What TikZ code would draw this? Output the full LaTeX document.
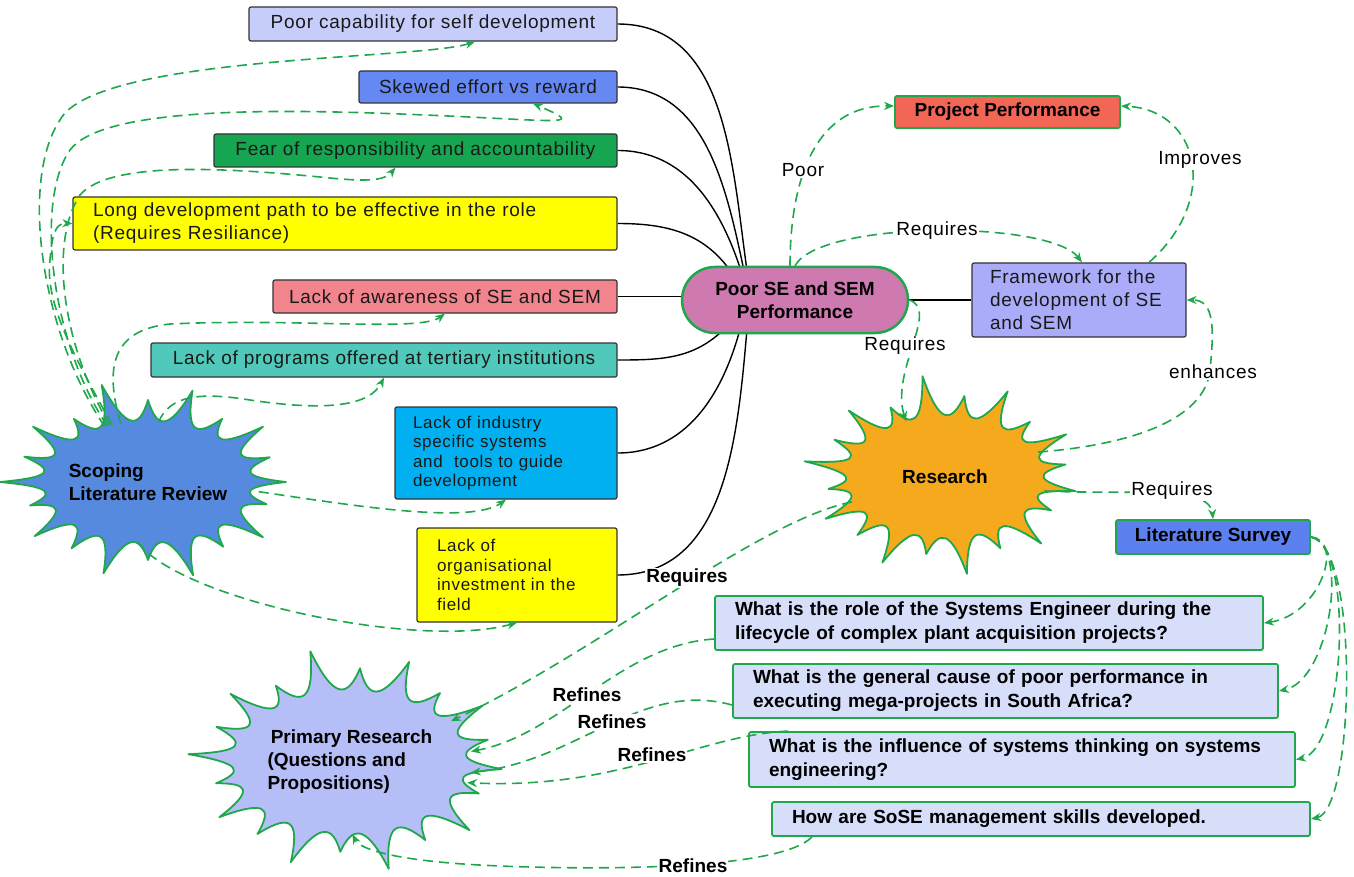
\documentclass[tikz,border=0pt]{standalone}
\usepackage{fontspec}
\setmainfont{Liberation Sans}
\newfontfamily\rf{Liberation Sans}[LetterSpace=4]
\usetikzlibrary{shapes.geometric,shapes.misc,arrows.meta,backgrounds}
\definecolor{gr}{RGB}{30,168,75}
\definecolor{cA}{RGB}{198,205,250}
\definecolor{cB}{RGB}{102,136,242}
\definecolor{cC}{RGB}{22,165,80}
\definecolor{yel}{RGB}{255,255,0}
\definecolor{pinkc}{RGB}{242,132,142}
\definecolor{tealc}{RGB}{80,201,186}
\definecolor{cyanc}{RGB}{0,176,240}
\definecolor{pillc}{RGB}{206,122,176}
\definecolor{ppc}{RGB}{242,102,86}
\definecolor{fwc}{RGB}{170,172,250}
\definecolor{resc}{RGB}{245,170,30}
\definecolor{lsc}{RGB}{92,128,238}
\definecolor{qc}{RGB}{214,222,250}
\definecolor{slrc}{RGB}{86,138,222}
\definecolor{prc}{RGB}{182,190,248}
% #1 cx, #2 cy, #3 rx, #4 ry, #5 fill, #6 rotation
\newcommand\starburst[6]{%
  \filldraw[draw=gr, line width=1.8pt, fill=#5, line join=round]
  ({#1+(#3+30)*cos(#6)},{#2+(#4+30)*sin(#6)})
  \foreach \pa/\ta/\ea in {0/17/16, 17/36/34, 36/54/20, 54/72/38, 72/90/18, 90/108/36, 108/126/22, 126/144/32, 144/162/16, 162/180/40, 180/198/22, 198/216/34, 216/234/18, 234/252/42, 252/270/22, 270/288/36, 288/306/18, 306/324/34, 324/342/20, 342/360/30}{
    .. controls ({#1+0.88*#3*cos(\pa+0.3*(\ta-\pa)+#6)},{#2+0.88*#4*sin(\pa+0.3*(\ta-\pa)+#6)})
    and ({#1+0.88*#3*cos(\ta-0.3*(\ta-\pa)+#6)},{#2+0.88*#4*sin(\ta-0.3*(\ta-\pa)+#6)}) ..
    ({#1+(#3+\ea)*cos(\ta+#6)},{#2+(#4+\ea)*sin(\ta+#6)})
  } -- cycle;
}
\tikzset{
  box/.style={draw=black!80, line width=1.2pt, rounded corners=2pt, inner sep=0pt,
    font=\rf\fontsize{19}{23}\selectfont, text=black!90},
  gbox/.style={draw=gr, line width=1.8pt, rounded corners=2pt, inner sep=0pt,
    font=\bfseries\fontsize{19}{23}\selectfont},
  qbox/.style={gbox, fill=qc, inner xsep=20pt, align=left, font=\bfseries\fontsize{19}{24}\selectfont},
  btext/.style={ellipse, inner sep=0pt, font=\bfseries\fontsize{19}{23}\selectfont, align=left},
  dar/.style={draw=gr, line width=1.6pt, dash pattern=on 10pt off 6pt, -{Stealth[length=10pt,width=8pt]}},
  bl/.style={draw=black, line width=1.4pt},
  lbl/.style={fill=white, inner sep=1pt, font=\rf\fontsize{19}{23}\selectfont},
  lblb/.style={fill=white, inner sep=1pt, font=\bfseries\fontsize{19}{23}\selectfont},
}
\begin{document}
\begin{tikzpicture}[x=1pt,y=-1pt]
\useasboundingbox (0,0) rectangle (1354,877);
% left boxes
\node[box, fill=cA, minimum width=368pt, minimum height=34pt] (b1) at (433,24) {Poor capability for self development};
\node[box, fill=cB, minimum width=258pt, minimum height=32pt] (b2) at (488,87) {Skewed effort vs reward};
\node[box, fill=cC, minimum width=403pt, minimum height=33pt] (b3) at (415.5,150.5) {Fear of responsibility and accountability};
\node[box, fill=yel, minimum height=53pt, text width=504pt, inner xsep=20pt, align=left] (b4) at (345,223.5) {Long development path to be effective in the role\\(Requires Resiliance)};
\node[box, fill=pinkc, minimum width=344pt, minimum height=33pt] (b5) at (445,296.5) {Lack of awareness of SE and SEM};
\node[box, fill=tealc, minimum width=466pt, minimum height=34pt] (b6) at (384,360) {Lack of programs offered at tertiary institutions};
\node[box, fill=cyanc, minimum height=92pt, text width=186pt, inner xsep=18pt, align=left, font=\rf\fontsize{17}{19.5}\selectfont] (b7) at (506,453) {Lack of industry\\specific systems\\and\ \ tools to guide\\development};
\node[box, fill=yel, minimum height=94pt, text width=160pt, inner xsep=20pt, align=left, font=\rf\fontsize{17}{19.5}\selectfont] (b8) at (517,575) {Lack of\\organisational\\investment in the\\field};
% centre
\node[rounded rectangle, draw=gr, line width=2.5pt, fill=pillc, minimum width=226pt, minimum height=66pt, inner sep=0pt, align=center, font=\bfseries\fontsize{19}{23}\selectfont] (pill) at (795,300) {Poor SE and SEM\\Performance};
\node[gbox, fill=ppc, minimum width=225pt, minimum height=32pt] (pp) at (1007.5,112) {Project Performance};
\node[box, fill=fwc, minimum height=74pt, text width=178pt, inner xsep=18pt, align=left] (fw) at (1079,300) {Framework for the\\development of SE\\and SEM};
\node[gbox, fill=lsc, minimum width=194pt, minimum height=34pt] (ls) at (1213,537) {Literature Survey};
\node[qbox, minimum height=54pt, text width=508pt] (q1) at (989,623) {What is the role of the Systems Engineer during the\\lifecycle of complex plant acquisition projects?};
\node[qbox, minimum height=54pt, text width=505pt] (q2) at (1005.5,691) {What is the general cause of poor performance in\\executing mega-projects in South Africa?};
\node[qbox, minimum height=55pt, text width=506pt] (q3) at (1022,759.5) {What is the influence of systems thinking on systems\\engineering?};
\node[qbox, minimum height=34pt, text width=498pt] (q4) at (1041,819) {How are SoSE management skills developed.};
% bursts
\starburst{148}{482}{108}{60}{slrc}{0}
\node[btext, minimum width=216pt, minimum height=120pt] (slr) at (148,482) {Scoping\\Literature Review};
\starburst{945}{477}{102}{60}{resc}{9}
\node[btext, minimum width=204pt, minimum height=120pt] (res) at (945,477) {Research};
\starburst{350}{762}{122}{72}{prc}{4}
\node[btext, minimum width=244pt, minimum height=144pt] (pr) at (350,762) {\,Primary Research\\(Questions and\\Propositions)};
% black connectors
\begin{scope}[on background layer]
\fill[white] (0,0) rectangle (1354,877);
\draw[bl] (b1.east) to[out=0,in=98] ([xshift=-48pt,yshift=-5pt]pill.north);
\draw[bl] (b2.east) to[out=0,in=102] ([xshift=-51pt,yshift=-5pt]pill.north);
\draw[bl] (b3.east) to[out=0,in=108] ([xshift=-54pt,yshift=-5pt]pill.north);
\draw[bl] (b4.east) to[out=0,in=125] ([xshift=-64pt,yshift=-6pt]pill.north);
\draw[bl] (b5.east) -- (b5.east -| pill.center);
\draw[bl] (b6.east) to[out=0,in=225] ([xshift=-70pt,yshift=6pt]pill.south);
\draw[bl] (b7.east) to[out=0,in=255] ([xshift=-55pt,yshift=5pt]pill.south);
\draw[bl] (b8.east) to[out=0,in=265] ([xshift=-48pt,yshift=5pt]pill.south);
\draw[bl] (pill.center) -- (fw.west);
\end{scope}
% scoping connectors
\draw[dar] (slr.128) .. controls (40,330) and (20,180) .. (60,120) .. controls (95,55) and (420,60) .. ([xshift=42pt]b1.south);
\draw[dar] (slr.126) .. controls (50,340) and (35,200) .. (70,150) .. controls (100,110) and (250,108) .. (400,114) .. controls (560,120) and (590,128) .. ([xshift=45pt]b2.south);
\draw[dar] (slr.124) .. controls (60,340) and (50,240) .. (80,195) .. controls (110,160) and (230,168) .. (330,178) .. controls (370,182) and (385,180) .. ([xshift=-20pt]b3.south);
\draw[dar] (slr.122) .. controls (70,350) and (45,300) .. (50,260) .. controls (52,235) and (55,223) .. (b4.west);
\draw[dar] (slr.115) .. controls (105,370) and (110,330) .. (170,324) .. controls (300,318) and (420,332) .. (b5.south);
\draw[dar] (slr.80) .. controls (170,395) and (200,392) .. (250,400) .. controls (330,412) and (370,405) .. (b6.south);
\draw[dar] (slr.-5) .. controls (350,505) and (470,525) .. (b7.south);
\draw[dar] (slr.-100) .. controls (180,600) and (420,650) .. (b8.south);
% pill connectors
\draw[dar] ([xshift=-5pt]pill.north) .. controls (790,190) and (810,105) .. ([yshift=6pt]pp.west);
\draw[dar] (pill.north) .. controls (820,220) and (1050,220) .. ([xshift=3pt]fw.north);
\draw[dar] ([xshift=70pt]fw.north) .. controls (1220,200) and (1200,110) .. ([yshift=6pt]pp.east);
\draw[dar] (pill.east) .. controls (940,310) and (890,370) .. (res.125);
\draw[dar] (res.15) .. controls (1130,445) and (1205,420) .. (1210,370) .. controls (1214,330) and (1215,300) .. (fw.east);
\draw[dar] (res.-8) .. controls (1130,495) and (1210,485) .. (ls.north);
\draw[dar] (res.195) .. controls (760,520) and (600,650) .. (pr.22);
% questions
\draw[dar] ([yshift=-16pt]q1.west) .. controls (620,645) and (560,735) .. (pr.5);
\draw[dar] ([yshift=-14pt]q2.west) .. controls (640,680) and (580,760) .. (pr.-5);
\draw[dar] ([xshift=40pt]q3.north west) .. controls (700,735) and (620,790) .. (pr.-10);
\draw[dar] ([xshift=-229pt]q4.south) .. controls (780,870) and (600,870) .. (500,866) .. controls (400,862) and (360,850) .. (pr.-88);
\draw[dar] (ls.east) .. controls (1345,540) and (1320,615) .. (q1.east);
\draw[dar] (ls.east) .. controls (1350,545) and (1330,680) .. (q2.east);
\draw[dar] (ls.east) .. controls (1355,545) and (1345,750) .. (q3.east);
\draw[dar] (ls.east) .. controls (1360,545) and (1355,810) .. (q4.east);
% labels
\node[lbl] (l1) at (803,170) {Poor};
\node[lbl] (l2) at (937,231) {Requires};
\node[lbl] (l3) at (1200,160) {Improves};
\node[lbl] (l4) at (905,346) {Requires};
\node[lbl] (l5) at (1213,372) {enhances};
\node[lbl] (l6) at (1172,491) {Requires};
\node[lblb] (l7) at (687,578) {Requires};
\node[lblb] (l8) at (587,695) {Refines};
\node[lblb] (l9) at (612,722) {Refines};
\node[lblb] (l10) at (652,755) {Refines};
\node[lblb] (l11) at (693,866) {Refines};
\end{tikzpicture}
\end{document}
